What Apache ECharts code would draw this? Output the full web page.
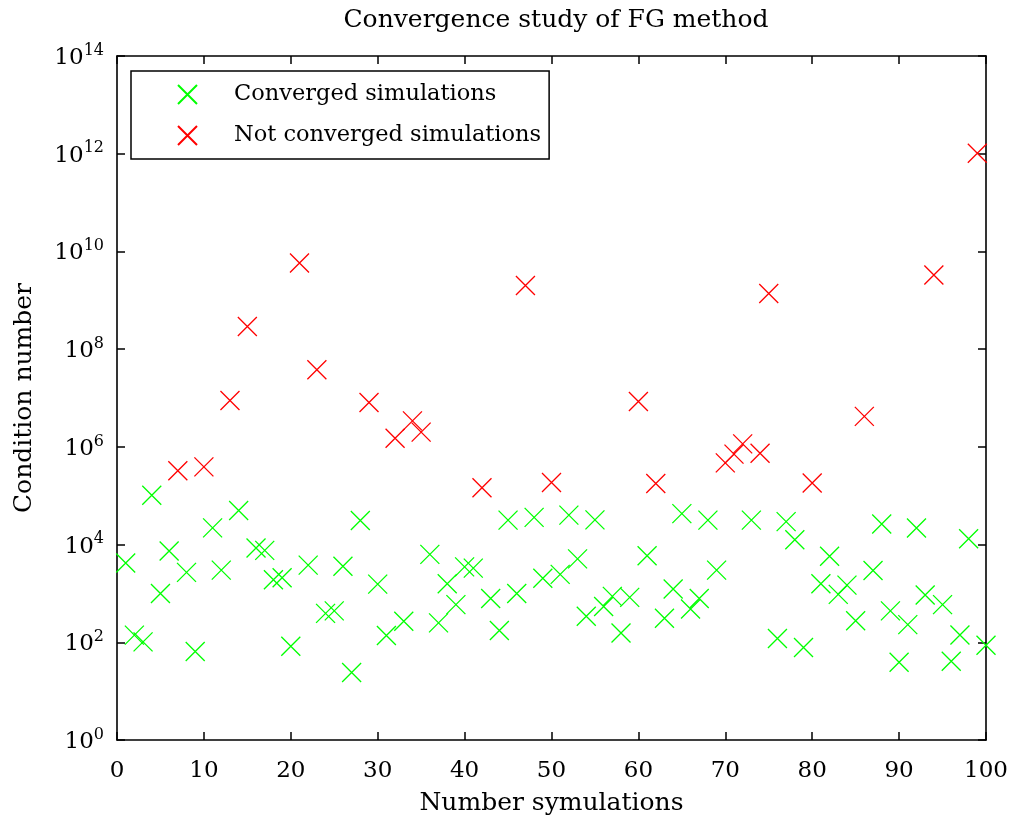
<!DOCTYPE html>
<html>
<head>
<meta charset="utf-8">
<script src="https://cdn.jsdelivr.net/npm/echarts@6/dist/echarts.min.js"></script>
<style>
  html, body { margin: 0; padding: 0; background: #fff; }
  #chart { width: 1011px; height: 821px; }
</style>
</head>
<body>
<div id="chart"></div>
<script>
const FONT = "DejaVu Serif";

// simulations that converged
const convergedSim = [1, 2, 3, 4, 5, 6, 8, 9, 11, 12, 14, 16, 17, 18, 19, 20, 22, 24, 25, 26, 27, 28, 30, 31, 33,
  36, 37, 38, 39, 40, 41, 43, 44, 45, 46, 48, 49, 51, 52, 53, 54, 55, 56, 57, 58, 59, 61, 63, 64, 65, 66,
  67, 68, 69, 73, 76, 77, 78, 79, 81, 82, 83, 84, 85, 87, 88, 89, 90, 91, 92, 93, 95, 96, 97, 98, 100];
const convergedCond = [4200, 140, 102, 102000, 1000, 7400, 2700, 65, 22000, 3000, 50000, 8500, 7600, 1900, 2100, 83,
  3800, 390, 440, 3600, 24, 31000, 1550, 138, 270,
  6300, 250, 1580, 590, 3500, 3300, 790, 174, 31600, 1000, 36000, 2040, 2450, 40000, 5100, 340, 32000, 540,
  870, 155, 830, 5900, 310, 1230, 43000, 480,
  790, 31600, 3000, 31600, 120, 29500, 12600, 78, 1580, 5750, 955, 1480, 275, 2950, 26300, 440, 39, 230, 21900,
  930, 590, 41, 141, 13200, 87];

// simulations that did not converge
const failedSim = [7, 10, 13, 15, 21, 23, 29, 32, 34, 35, 42, 47, 50, 60, 62, 70, 71, 72, 74, 75, 80, 86, 94, 99];
const failedCond = [3.24e5, 3.89e5, 8.9e6, 2.9e8, 5.8e9, 3.8e7, 8.1e6, 1.5e6, 3.4e6, 2.0e6, 1.45e5, 2.0e9, 1.86e5,
  8.5e6, 1.78e5, 4.7e5, 7.1e5, 1.15e6, 7.4e5, 1.38e9, 1.82e5, 4.2e6, 3.3e9, 1.02e12];

const xTicks = [0, 100, 10];   // min, max, step
const yTicks = [1, 1e14, 2];   // min, max, decades per tick

const cross = "path://M0,0L10,10M10,0L0,10";

const chart = echarts.init(document.getElementById("chart"));

const axisLine = { onZero: false, lineStyle: { color: "#000", width: 1.6 } };
const tick = { inside: true, length: 8, lineStyle: { color: "#000", width: 1.5 } };

chart.setOption({
  animation: false,
  backgroundColor: "#fff",
  textStyle: { fontFamily: FONT },
  title: {
    text: "Convergence study of FG method",
    left: 551, top: 3, textAlign: "center",
    textStyle: { fontFamily: FONT, fontWeight: "normal", fontSize: 25, color: "#000" },
  },
  legend: {
    orient: "vertical",
    left: 131, top: 71,
    padding: [12, 8, 12, 46],
    itemWidth: 19, itemHeight: 19, itemGap: 18,
    borderColor: "#000", borderWidth: 1.5, backgroundColor: "#fff",
    textStyle: { fontFamily: FONT, fontSize: 22.5, color: "#000", padding: [0, 0, 0, 32] },
    data: ["Converged simulations", "Not converged simulations"],
  },
  grid: { left: 117, top: 56, right: 25, bottom: 80 },
  xAxis: [
    {
      type: "value", min: xTicks[0], max: xTicks[1], interval: xTicks[2],
      position: "bottom",
      name: "Number symulations", nameLocation: "middle", nameGap: 51,
      nameTextStyle: { fontFamily: FONT, fontSize: 25, color: "#000" },
      axisLine, axisTick: tick, splitLine: { show: false },
      axisLabel: { fontFamily: FONT, fontSize: 23, color: "#000", margin: 20 },
    },
    {
      type: "value", min: xTicks[0], max: xTicks[1], interval: xTicks[2],
      position: "top",
      axisLine, axisTick: tick, splitLine: { show: false },
      axisLabel: { show: false },
    },
  ],
  yAxis: [
    {
      type: "log", logBase: 10, min: yTicks[0], max: yTicks[1], interval: yTicks[2],
      position: "left",
      name: "Condition number", nameLocation: "middle", nameGap: 80, nameRotate: 90,
      nameTextStyle: { fontFamily: FONT, fontSize: 25, color: "#000" },
      axisLine, axisTick: tick, splitLine: { show: false }, minorTick: { show: false },
      axisLabel: {
        margin: 13,
        formatter: (v) => "{b|10}{s|" + Math.round(Math.log10(v)) + "}",
        rich: {
          b: { fontFamily: FONT, fontSize: 23, color: "#000", verticalAlign: "bottom" },
          s: { fontFamily: FONT, fontSize: 16, color: "#000", verticalAlign: "bottom", padding: [0, 0, 11, 0] },
        },
      },
    },
    {
      type: "log", logBase: 10, min: yTicks[0], max: yTicks[1], interval: yTicks[2],
      position: "right",
      axisLine, axisTick: tick, splitLine: { show: false },
      axisLabel: { show: false },
    },
  ],
  series: [
    {
      name: "Converged simulations",
      type: "scatter",
      symbol: cross, symbolSize: 19,
      itemStyle: { color: "rgba(0,0,0,0)", borderColor: "#00ff00", borderWidth: 1.3, opacity: 1 },
      data: convergedSim.map((s, i) => [s, convergedCond[i]]),
    },
    {
      name: "Not converged simulations",
      type: "scatter",
      symbol: cross, symbolSize: 19,
      itemStyle: { color: "rgba(0,0,0,0)", borderColor: "#ff0000", borderWidth: 1.3, opacity: 1 },
      data: failedSim.map((s, i) => [s, failedCond[i]]),
    },
  ],
});
</script>
</body>
</html>
